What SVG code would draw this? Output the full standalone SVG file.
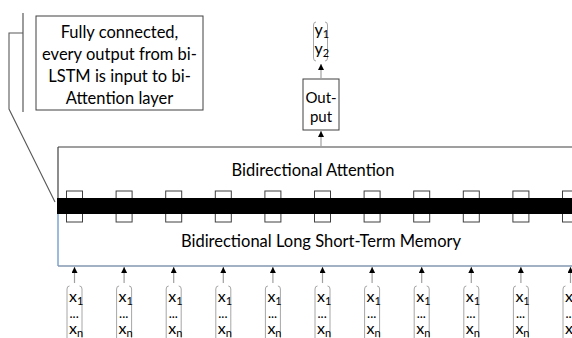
<svg xmlns="http://www.w3.org/2000/svg" width="572" height="338" viewBox="0 0 572 338">
<defs>
<style>
.t{font-family:Lato,"Liberation Sans",sans-serif;fill:#000}
.big{font-size:16.5px}
.mid{font-size:15px}
.xs{font-size:16px}
.sub{font-size:11px}
.dots{font-size:13px}
.box{fill:#fff;stroke:#404040;stroke-width:1}
.sq{fill:#fff;stroke:#404040;stroke-width:1}
.arr{stroke:#a0a0a0;stroke-width:1.2;fill:none;marker-end:url(#ah)}
.brk{stroke:#a6a6a6;stroke-width:1;fill:none}
</style>
<marker id="ah" markerUnits="userSpaceOnUse" markerWidth="6" markerHeight="6" viewBox="0 0 6 6" refX="6" refY="3" orient="auto">
<path d="M0,0 L6,3 L0,6 Z" fill="#000"/>
</marker>
<g id="col">
<path class="brk" d="M-5,286 Q-7.5,286 -7.5,289 V340"/>
<path class="brk" d="M5,286 Q7.5,286 7.5,289 V340"/>
<text class="t xs" x="-5.5" y="302">x<tspan class="sub" dy="3">1</tspan></text>
<text class="t dots" x="-5" y="318">...</text>
<text class="t xs" x="-5.5" y="334">x<tspan class="sub" dy="3">n</tspan></text>
</g>
</defs>
<rect width="572" height="338" fill="#fff"/>

<g id="note">
<rect class="box" x="36" y="16" width="167" height="94"/>
<text class="t big" text-anchor="middle" x="119.5" y="38">Fully connected,</text>
<text class="t big" text-anchor="middle" x="119.5" y="60">every output from bi-</text>
<text class="t big" text-anchor="middle" x="119.5" y="82">LSTM is input to bi-</text>
<text class="t big" text-anchor="middle" x="119.5" y="104">Attention layer</text>
</g>

<g id="callout">
<line x1="23" y1="13" x2="23" y2="112" stroke="#595959" stroke-width="1.2"/>
<polyline points="23,33 9,33 9,109 55,202" fill="none" stroke="#595959" stroke-width="1.1"/>
</g>

<g id="main">
<line x1="58" y1="147" x2="572" y2="147" stroke="#404040" stroke-width="1.2"/>
<line x1="58" y1="147" x2="58" y2="214" stroke="#404040" stroke-width="1.2"/>
<line x1="58" y1="214" x2="58" y2="266" stroke="#5b8ec8" stroke-width="1.2"/>
<line x1="58" y1="266" x2="572" y2="266" stroke="#8497b0" stroke-width="1.5"/>
<text class="t big" text-anchor="middle" x="313" y="176">Bidirectional Attention</text>
<text class="t big" text-anchor="middle" x="321" y="247">Bidirectional Long Short-Term Memory</text>
</g>

<g id="cells">
<rect class="sq" x="66.5" y="191" width="16" height="31"/>
<rect class="sq" x="116.1" y="191" width="16" height="31"/>
<rect class="sq" x="165.7" y="191" width="16" height="31"/>
<rect class="sq" x="215.3" y="191" width="16" height="31"/>
<rect class="sq" x="264.9" y="191" width="16" height="31"/>
<rect class="sq" x="314.5" y="191" width="16" height="31"/>
<rect class="sq" x="364.1" y="191" width="16" height="31"/>
<rect class="sq" x="413.7" y="191" width="16" height="31"/>
<rect class="sq" x="463.3" y="191" width="16" height="31"/>
<rect class="sq" x="512.9" y="191" width="16" height="31"/>
<rect class="sq" x="562.5" y="191" width="16" height="31"/>
<rect x="57" y="198" width="515" height="16" fill="#000"/>
</g>

<g id="output">
<rect class="box" x="303" y="79" width="36" height="51"/>
<text class="t mid" text-anchor="middle" x="321" y="103">Out-</text>
<text class="t mid" text-anchor="middle" x="321" y="122">put</text>
</g>

<g id="y">
<path class="brk" d="M316,22 Q313.5,22 313.5,25 V58 Q313.5,61 316,61"/>
<path class="brk" d="M325,22 Q327.5,22 327.5,25 V58 Q327.5,61 325,61"/>
<text class="t xs" x="314.5" y="35">y<tspan class="sub" dy="3">1</tspan></text>
<text class="t xs" x="314.5" y="54">y<tspan class="sub" dy="3">2</tspan></text>
</g>

<g id="inputs">
<use href="#col" x="74.5"/>
<use href="#col" x="124.1"/>
<use href="#col" x="173.7"/>
<use href="#col" x="223.3"/>
<use href="#col" x="272.9"/>
<use href="#col" x="322.5"/>
<use href="#col" x="372.1"/>
<use href="#col" x="421.7"/>
<use href="#col" x="471.3"/>
<use href="#col" x="520.9"/>
<use href="#col" x="570.5"/>
</g>

<g id="connectors">
<line class="arr" x1="321" y1="147" x2="321" y2="131"/>
<line class="arr" x1="321" y1="79" x2="321" y2="64"/>
<line class="arr" x1="74.5" y1="283" x2="74.5" y2="267"/>
<line class="arr" x1="124.1" y1="283" x2="124.1" y2="267"/>
<line class="arr" x1="173.7" y1="283" x2="173.7" y2="267"/>
<line class="arr" x1="223.3" y1="283" x2="223.3" y2="267"/>
<line class="arr" x1="272.9" y1="283" x2="272.9" y2="267"/>
<line class="arr" x1="322.5" y1="283" x2="322.5" y2="267"/>
<line class="arr" x1="372.1" y1="283" x2="372.1" y2="267"/>
<line class="arr" x1="421.7" y1="283" x2="421.7" y2="267"/>
<line class="arr" x1="471.3" y1="283" x2="471.3" y2="267"/>
<line class="arr" x1="520.9" y1="283" x2="520.9" y2="267"/>
<line class="arr" x1="570.5" y1="283" x2="570.5" y2="267"/>
</g>
</svg>
